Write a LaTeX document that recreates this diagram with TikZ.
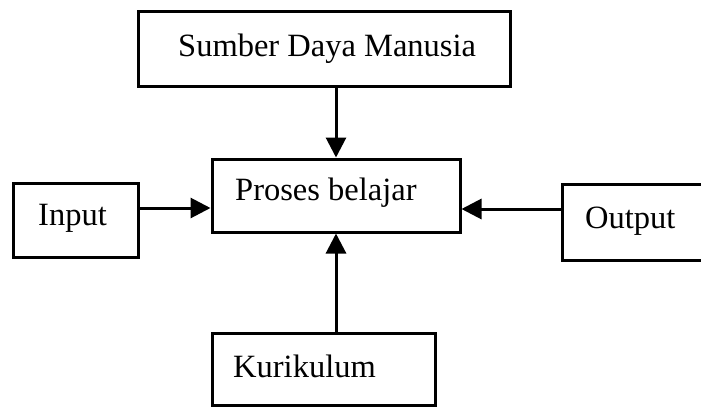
\documentclass[tikz,border=0pt]{standalone}
\usepackage{fontspec}
\setmainfont{Liberation Serif}
\usetikzlibrary{arrows.meta}
\tikzset{
  box/.style={draw, line width=3pt, rectangle, inner sep=0pt},
  lbl/.style={anchor=base west, inner sep=0pt, font=\fontsize{32.5}{38}\selectfont},
  arr/.style={line width=3pt, -{Triangle[length=20pt,width=20pt]}}
}
\begin{document}
\begin{tikzpicture}[x=1pt,y=-1pt]
\clip (0,0) rectangle (701,407);
\fill[white] (0,0) rectangle (701,407);
% boxes
\node[box, minimum width=372pt, minimum height=75pt] (sdm) at (324,48.5) {};
\node[box, minimum width=248pt, minimum height=73pt] (proses) at (336,195.5) {};
\node[box, minimum width=125pt, minimum height=74pt] (input) at (75.5,220) {};
\node[box, minimum width=158pt, minimum height=76pt] (output) at (641,222) {};
\node[box, minimum width=223pt, minimum height=72pt] (kur) at (323.5,369) {};
% labels
\node[lbl] (tsdm) at (178,56) {Sumber Daya Manusia};
\node[lbl] (tproses) at (235,200) {Proses belajar};
\node[lbl] (tinput) at (38,225) {Input};
\node[lbl] (toutput) at (585,228) {Output};
\node[lbl] (tkur) at (233,377) {Kurikulum};
% connectors
\coordinate (ya) at (0,208);
\coordinate (yb) at (0,209);
\draw[arr] (sdm.south -| proses.north) -- (proses.north);
\draw[arr] (kur.north -| proses.south) -- (proses.south);
\draw[arr] (input.east |- ya) -- (proses.west |- ya);
\draw[arr] (output.west |- yb) -- (proses.east |- yb);
\end{tikzpicture}
\end{document}
